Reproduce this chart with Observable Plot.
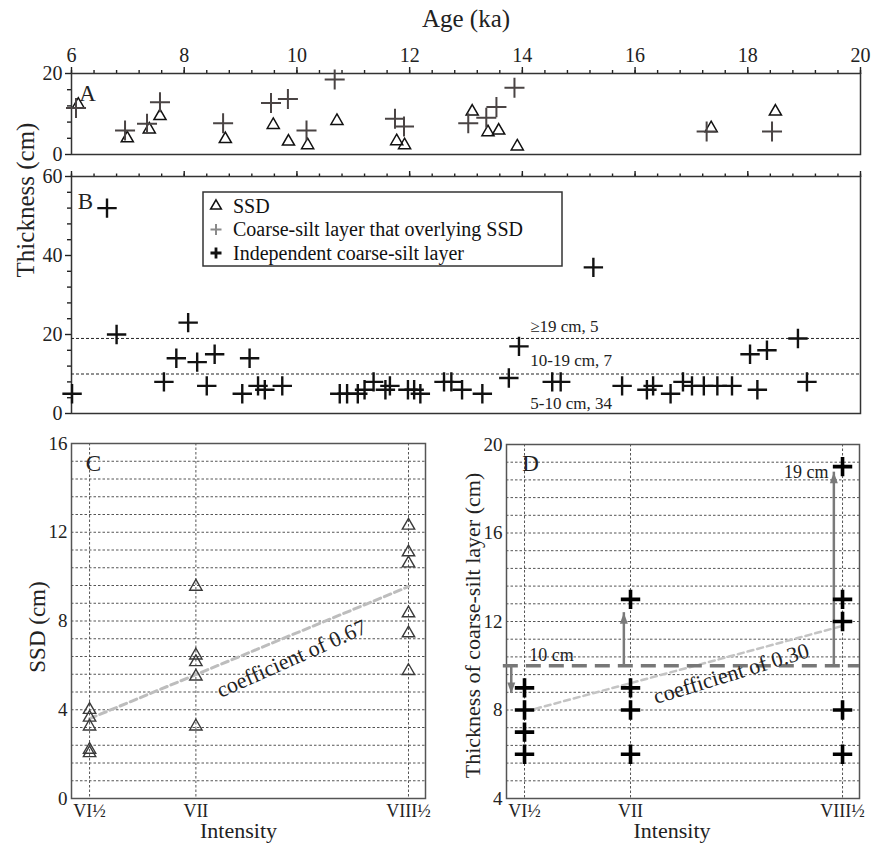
<!DOCTYPE html>
<html>
<head>
<meta charset="utf-8">
<script src="https://cdn.jsdelivr.net/npm/d3@7"></script>
<script src="https://cdn.jsdelivr.net/npm/@observablehq/plot@0.6"></script>
<style>
  body { margin: 0; background: #fff; }
  #wrap { position: relative; width: 878px; height: 844px; overflow: hidden; background: #fff; }
  #wrap > svg { position: absolute; left: 0; top: 0; background: transparent; overflow: visible; }
</style>
</head>
<body>
<div id="wrap"></div>
<script>
// ---------- Panel A: SSD and the coarse-silt layer overlying it ----------
const aSsdAge  = [6.12, 6.99, 7.38, 7.57, 8.73, 9.58, 9.85, 10.19, 10.71, 11.77, 11.91, 13.11, 13.39, 13.58, 13.91, 17.35, 18.49];
const aSsdThk  = [12.3, 4.0, 6.2, 9.5, 3.8, 7.3, 3.2, 2.3, 8.3, 3.3, 2.3, 10.6, 5.5, 5.9, 2.0, 6.5, 10.6];
const aSiltAge = [6.08, 6.95, 7.34, 7.57, 8.69, 9.54, 9.84, 10.17, 10.67, 11.74, 11.90, 13.04, 13.36, 13.54, 13.86, 17.27, 18.43];
const aSiltThk = [11.5, 5.9, 7.6, 12.9, 7.7, 12.7, 13.7, 5.9, 18.5, 8.8, 6.9, 7.7, 9.1, 11.7, 16.5, 5.7, 5.7];

// ---------- Panel B: independent coarse-silt layers ----------
const bAge = [6.01, 6.63, 6.80, 7.64, 7.86, 8.07, 8.23, 8.40, 8.54, 9.03, 9.16, 9.31, 9.43, 9.74,
              10.76, 10.89, 11.08, 11.20, 11.36, 11.57, 11.65, 11.97, 12.08, 12.19,
              12.61, 12.74, 12.93, 13.29, 13.76, 13.94, 14.53, 14.68, 15.26, 15.77, 16.21, 16.32,
              16.63, 16.85, 17.01, 17.22, 17.46, 17.72, 18.04, 18.17, 18.34, 18.89, 19.05];
const bThk = [5, 52, 20, 8, 14, 23, 13, 7, 15, 5, 14, 7, 6, 7,
              5, 5, 5, 6, 8, 6, 7, 6, 6, 5,
              8, 8, 6, 5, 9, 17, 8, 8, 37, 7, 6, 7,
              5, 8, 7, 7, 7, 7, 15, 6, 16, 19, 8];
const classBounds = [19, 10];
const classLabels = ["≥19 cm, 5", "10-19 cm, 7", "5-10 cm, 34"];
const classLabelAge = [14.14, 14.14, 14.14];
const classLabelThk = [22.1, 13.5, 2.6];

// ---------- Panels C and D: by intensity ----------
const intensityLabels = ["VI½", "VII", "VIII½"];
const intensityRank = [1, 2, 4];
const ssdByIntensity = [
  [4.0, 3.65, 3.25, 2.2, 2.05],
  [9.55, 6.45, 6.15, 5.5, 3.25],
  [12.3, 11.1, 10.6, 8.35, 7.45, 5.75]
];
const siltByIntensity = [
  [9, 8, 7, 6],
  [13, 9, 8, 6],
  [19, 13, 12, 8, 6]
];
const trendCRank = [1, 4];
const trendCValue = [3.6, 9.55];
const trendDRank = [1.1, 4];
const trendDValue = [8.05, 11.8];
const threshold = 10;
const arrowRank = [0.875, 1.937, 3.918];
const arrowTo = [8.75, 12.4, 18.75];

// ---------- build tables ----------
const aSsd = aSsdAge.map((x, i) => ({age: x, thk: aSsdThk[i]}));
const aSilt = aSiltAge.map((x, i) => ({age: x, thk: aSiltThk[i]}));
const bRows = bAge.map((x, i) => ({age: x, thk: bThk[i]}));
const bLabels = classLabels.map((t, i) => ({text: t, age: classLabelAge[i], thk: classLabelThk[i]}));
const cRows = ssdByIntensity.flatMap((vals, i) => vals.map(v => ({rank: intensityRank[i], v})));
const dRows = siltByIntensity.flatMap((vals, i) => vals.map(v => ({rank: intensityRank[i], v})));
const trendC = trendCRank.map((r, i) => ({rank: r, v: trendCValue[i]}));
const trendD = trendDRank.map((r, i) => ({rank: r, v: trendDValue[i]}));
const arrows = arrowRank.map((r, i) => ({rank: r, from: threshold, to: arrowTo[i]}));

const serif = '"Liberation Serif", "Times New Roman", serif';
const W = 878, H = 844;
const ageMajor = d3.range(6, 20.001, 2);
const ageMinor = d3.range(0, 36).map(i => 6 + i * 0.4);
const intensityFmt = d => intensityLabels[intensityRank.indexOf(d)];
const gridStep = d3.range(1, 20).map(i => i * 0.8);

// arrowhead with its tip at the origin, pointing up
const arrowHead = {draw(ctx) { ctx.moveTo(0, 0); ctx.lineTo(-4, 11); ctx.lineTo(4, 11); ctx.closePath(); }};

function base(opts) {
  return Object.assign({
    width: W, height: H,
    style: {fontFamily: serif, fontSize: "19px", color: "#222", background: "transparent", overflow: "visible"}
  }, opts);
}

const plotA = Plot.plot(base({
  marginLeft: 71, marginRight: 18, marginTop: 73, marginBottom: H - 154,
  x: {domain: [6, 20], label: null},
  y: {domain: [0, 20], label: null},
  marks: [
    Plot.axisX({anchor: "top", ticks: ageMinor, tickSize: 4, tickFormat: () => "", label: null, strokeWidth: 1.4}),
    Plot.axisX({anchor: "top", ticks: ageMajor, tickSize: 7, tickPadding: 5, label: null, fontSize: 20, strokeWidth: 1.4}),
    Plot.axisY({anchor: "left", ticks: [4, 8, 12, 16], tickSize: 4, tickFormat: () => "", label: null, strokeWidth: 1.4}),
    Plot.axisY({anchor: "left", ticks: [0, 20], tickSize: 6, tickPadding: 3, label: null, fontSize: 20, strokeWidth: 1.4}),
    Plot.frame({stroke: "#333", strokeWidth: 1.5}),
    Plot.dot(aSsd, {x: "age", y: "thk", symbol: "triangle", r: 4.5, stroke: "#111", strokeWidth: 1.5, fill: "none"}),
    Plot.dot(aSilt, {x: "age", y: "thk", symbol: "plus", r: 6.5, stroke: "#4a4444", strokeWidth: 2}),
    Plot.text(["A"], {frameAnchor: "top-left", dx: 16, dy: 20, fontSize: 23, textAnchor: "middle", lineAnchor: "middle"}),
    Plot.text(["Age (ka)"], {frameAnchor: "top", dy: -55, fontSize: 25, textAnchor: "middle", lineAnchor: "middle"}),
    Plot.text(["Thickness (cm)"], {frameAnchor: "left", dx: -46, dy: 86, rotate: -90, fontSize: 25, textAnchor: "middle", lineAnchor: "middle"})
  ]
}));

const plotB = Plot.plot(base({
  marginLeft: 71, marginRight: 18, marginTop: 176, marginBottom: H - 413,
  x: {domain: [6, 20], label: null},
  y: {domain: [0, 60], label: null},
  marks: [
    Plot.axisX({anchor: "top", ticks: ageMinor, tickSize: 3.5, tickFormat: () => "", label: null, strokeWidth: 1.4}),
    Plot.axisX({anchor: "top", ticks: ageMajor, tickSize: 6, tickFormat: () => "", label: null, strokeWidth: 1.4}),
    Plot.axisY({anchor: "left", ticks: d3.range(4, 60, 4).filter(v => v % 20 !== 0), tickSize: 4, tickFormat: () => "", label: null, strokeWidth: 1.4}),
    Plot.axisY({anchor: "left", ticks: [0, 20, 40, 60], tickSize: 6, tickPadding: 3, label: null, fontSize: 20, strokeWidth: 1.4}),
    Plot.frame({stroke: "#333", strokeWidth: 1.5}),
    Plot.ruleY(classBounds, {stroke: "#222", strokeWidth: 1, strokeDasharray: "3,2"}),
    Plot.text(bLabels, {x: "age", y: "thk", text: "text", textAnchor: "start", fontSize: 17, fill: "#222"}),
    Plot.dot(bRows, {x: "age", y: "thk", symbol: "plus", r: 6.3, stroke: "#111", strokeWidth: 2.4}),
    Plot.text(["B"], {frameAnchor: "top-left", dx: 14, dy: 25, fontSize: 23, textAnchor: "middle", lineAnchor: "middle"})
  ]
}));

const plotC = Plot.plot(base({
  marginLeft: 71, marginRight: W - 425, marginTop: 443, marginBottom: H - 798,
  x: {domain: [0.83, 4.16], label: null},
  y: {domain: [0, 16], label: null},
  marks: [
    Plot.ruleY(gridStep, {stroke: "#555", strokeWidth: 1, strokeDasharray: "2.5,2"}),
    Plot.ruleX(intensityRank, {stroke: "#555", strokeWidth: 1, strokeDasharray: "2.5,2"}),
    Plot.frame({stroke: "#555", strokeWidth: 1.5}),
    Plot.axisY({anchor: "left", ticks: [0, 4, 8, 12, 16], tickSize: 0, tickPadding: 4, label: null, fontSize: 19}),
    Plot.axisX({anchor: "bottom", ticks: intensityRank, tickFormat: intensityFmt, tickSize: 0, tickPadding: 6, label: null, fontSize: 18}),
    Plot.line(trendC, {x: "rank", y: "v", stroke: "#bdbdbd", strokeWidth: 3, strokeDasharray: "7,4"}),
    Plot.dot(cRows, {x: "rank", y: "v", symbol: "triangle", r: 4.6, stroke: "#3a3a3a", strokeWidth: 1.4, fill: "none"}),
    Plot.text(["coefficient of 0.67"], {x: [2.9], y: [6.3], rotate: -24, fontSize: 22, fill: "#222"}),
    Plot.text(["C"], {frameAnchor: "top-left", dx: 22, dy: 20, fontSize: 23, textAnchor: "middle", lineAnchor: "middle"}),
    Plot.text(["Intensity"], {frameAnchor: "bottom", dx: -10, dy: 32, fontSize: 22, textAnchor: "middle", lineAnchor: "middle"}),
    Plot.text(["SSD (cm)"], {frameAnchor: "left", dx: -34, dy: 6, rotate: -90, fontSize: 23, textAnchor: "middle", lineAnchor: "middle"})
  ]
}));

const plotD = Plot.plot(base({
  marginLeft: 506, marginRight: W - 859, marginTop: 444, marginBottom: H - 798,
  x: {domain: [0.83, 4.16], label: null},
  y: {domain: [4, 20], label: null},
  marks: [
    Plot.ruleY(gridStep.map(v => v + 4), {stroke: "#555", strokeWidth: 1, strokeDasharray: "2.5,2"}),
    Plot.ruleX(intensityRank, {stroke: "#555", strokeWidth: 1, strokeDasharray: "2.5,2"}),
    Plot.frame({stroke: "#555", strokeWidth: 1.5}),
    Plot.axisY({anchor: "left", ticks: [4, 8, 12, 16, 20], tickSize: 0, tickPadding: 4, label: null, fontSize: 19}),
    Plot.axisX({anchor: "bottom", ticks: intensityRank, tickFormat: intensityFmt, tickSize: 0, tickPadding: 6, label: null, fontSize: 18}),
    Plot.line(trendD, {x: "rank", y: "v", stroke: "#c4c4c4", strokeWidth: 2.5, strokeDasharray: "6,4"}),
    Plot.ruleY([threshold], {x1: 0.8, x2: 4.16, stroke: "#777", strokeWidth: 3.5, strokeDasharray: "15,8"}),
    Plot.ruleX(arrows, {x: "rank", y1: "from", y2: "to", stroke: "#7a7a7a", strokeWidth: 2.5}),
    Plot.dot(arrows, {x: "rank", y: "to", symbol: arrowHead, r: 5, fill: "#7a7a7a", stroke: "none", rotate: d => d.to < d.from ? 180 : 0}),
    Plot.dot(dRows, {x: "rank", y: "v", symbol: "plus", r: 6.3, stroke: "#000", strokeWidth: 3.6}),
    Plot.text(["10 cm"], {x: [1.255], y: [10.37], dy: -2, fontSize: 18, fill: "#222"}),
    Plot.text(["19 cm"], {x: [3.868], y: [18.75], textAnchor: "end", fontSize: 18, fill: "#222"}),
    Plot.text(["coefficient of 0.30"], {x: [2.95], y: [9.64], rotate: -17, fontSize: 22, fill: "#222"}),
    Plot.text(["D"], {frameAnchor: "top-left", dx: 24, dy: 19, fontSize: 23, textAnchor: "middle", lineAnchor: "middle"}),
    Plot.text(["Intensity"], {frameAnchor: "bottom", dx: -11, dy: 32, fontSize: 22, textAnchor: "middle", lineAnchor: "middle"}),
    Plot.text(["Thickness of coarse-silt layer (cm)"], {frameAnchor: "left", dx: -34, dy: 4, rotate: -90, fontSize: 22, textAnchor: "middle", lineAnchor: "middle"})
  ]
}));

const wrap = document.getElementById("wrap");
[plotA, plotB, plotC, plotD].forEach(p => wrap.appendChild(p));

// ---------- legend for panel B ----------
const legendItems = [
  {label: "SSD", kind: "triangle", color: "#111", width: 1.5},
  {label: "Coarse-silt layer that overlying SSD", kind: "plus", color: "#8a8a8a", width: 2},
  {label: "Independent coarse-silt layer", kind: "plus", color: "#111", width: 2.8}
];
const lg = d3.create("svg")
  .attr("width", 364).attr("height", 78)
  .style("left", "202px").style("top", "191px")
  .style("font-family", serif).style("font-size", "20px");
lg.append("rect").attr("x", 1).attr("y", 1).attr("width", 359).attr("height", 74)
  .attr("fill", "#fff").attr("stroke", "#333").attr("stroke-width", 1.5);
legendItems.forEach((it, i) => {
  const cy = 15 + i * 23.5;
  const g = lg.append("g").attr("transform", `translate(14,${cy})`);
  if (it.kind === "triangle") {
    g.append("path").attr("d", d3.symbol(d3.symbolTriangle, 50)())
      .attr("fill", "none").attr("stroke", it.color).attr("stroke-width", it.width);
  } else {
    g.append("path").attr("d", "M-5.5,0H5.5M0,-5.5V5.5")
      .attr("stroke", it.color).attr("stroke-width", it.width);
  }
  lg.append("text").attr("x", 31).attr("y", cy + 6.5).attr("fill", "#111").text(it.label);
});
wrap.appendChild(lg.node());
</script>
</body>
</html>
